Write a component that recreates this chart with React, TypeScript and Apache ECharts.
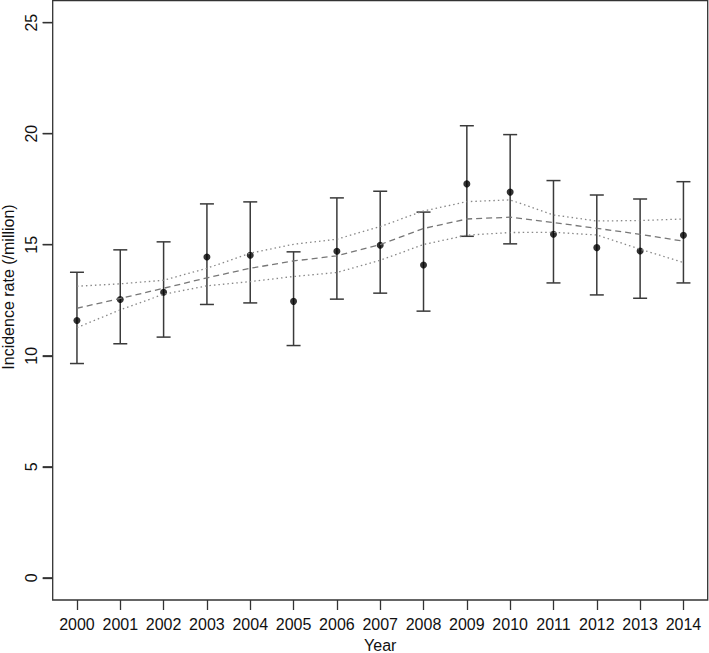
import React, { useEffect, useRef } from "react";
import * as echarts from "echarts";

const years = [2000, 2001, 2002, 2003, 2004, 2005, 2006, 2007, 2008, 2009, 2010, 2011, 2012, 2013, 2014];
const rate = [11.59, 12.53, 12.86, 14.45, 14.53, 12.45, 14.71, 14.98, 14.09, 17.74, 17.37, 15.47, 14.87, 14.72, 15.43];
const rateUpper = [13.76, 14.77, 15.13, 16.84, 16.93, 14.68, 17.11, 17.41, 16.47, 20.36, 19.96, 17.89, 17.24, 17.06, 17.84];
const rateLower = [9.65, 10.54, 10.84, 12.31, 12.38, 10.46, 12.55, 12.82, 12.01, 15.38, 15.04, 13.28, 12.74, 12.59, 13.28];
const fit = [12.14, 12.58, 13.04, 13.51, 13.94, 14.27, 14.5, 15.01, 15.73, 16.16, 16.24, 16.0, 15.74, 15.47, 15.16];
const fitUpper = [13.13, 13.24, 13.4, 13.94, 14.62, 15.02, 15.25, 15.82, 16.52, 16.94, 17.02, 16.34, 16.07, 16.09, 16.16];
const fitLower = [11.27, 12.07, 12.77, 13.15, 13.34, 13.57, 13.75, 14.3, 15.01, 15.43, 15.55, 15.56, 15.44, 14.8, 14.2];
const yTicks = [0, 5, 10, 15, 20, 25];
const yTitle = "Incidence rate (/million)";
const xTitle = "Year";

const X_MIN = 1999.44;
const X_MAX = 2014.56;
const FONT = "'Liberation Sans', Arial, Helvetica, sans-serif";

export default function App() {
  const ref = useRef<HTMLDivElement>(null);
  useEffect(() => {
    if (!ref.current) return;
    const chart = echarts.init(ref.current, null, { renderer: "svg" });
    const errData = years.map((y, i) => [y, rateLower[i], rateUpper[i]]);
    chart.setOption({
      animation: false,
      backgroundColor: "#fff",
      grid: {
        left: 52.7,
        right: 1.3,
        top: 0.5,
        bottom: 53,
        show: true,
        containLabel: false,
        outerBoundsMode: "none",
        borderColor: "#333",
        borderWidth: 1.3,
        backgroundColor: "transparent",
      },
      graphic: [
        {
          type: "text",
          x: 8,
          y: 287,
          rotation: Math.PI / 2,
          style: {
            text: yTitle,
            fill: "#111",
            font: `16px ${FONT}`,
            align: "center",
            verticalAlign: "middle",
          },
        },
      ],
      xAxis: {
        type: "value",
        min: X_MIN,
        max: X_MAX,
        splitLine: { show: false },
        axisLine: { show: false, onZero: false },
        axisTick: { show: true, length: 10, customValues: years, lineStyle: { color: "#333", width: 1.3 } },
        axisLabel: {
          customValues: years,
          formatter: (v: number) => String(v),
          color: "#111",
          fontFamily: FONT,
          fontSize: 16,
          margin: 16,
        },
        name: xTitle,
        nameLocation: "middle",
        nameGap: 37,
        nameTextStyle: { color: "#111", fontFamily: FONT, fontSize: 16 },
      },
      yAxis: {
        type: "value",
        min: -1,
        max: 26,
        splitLine: { show: false },
        axisLine: { show: false, onZero: false },
        axisTick: { show: true, length: 10, customValues: yTicks, lineStyle: { color: "#333", width: 1.3 } },
        axisLabel: {
          customValues: yTicks,
          rotate: 90,
          color: "#111",
          fontFamily: FONT,
          fontSize: 16,
          margin: 13,
        },
      },
      series: [
        {
          type: "custom",
          data: yTicks.map((v) => [X_MIN, v]),
          encode: { x: 0, y: 1 },
          clip: false,
          silent: true,
          renderItem: (params: any, api: any) => {
            const p = api.coord([api.value(0), api.value(1)]);
            return {
              type: "line",
              shape: { x1: p[0] - 10, y1: p[1], x2: p[0], y2: p[1] },
              style: { stroke: "#333", lineWidth: 1.3 },
            };
          },
        },
        {
          type: "line",
          data: years.map((y, i) => [y, fitUpper[i]]),
          showSymbol: false,
          symbol: "none",
          lineStyle: { color: "#888", width: 1.3, type: [1.5, 3] },
          silent: true,
        },
        {
          type: "line",
          data: years.map((y, i) => [y, fitLower[i]]),
          showSymbol: false,
          symbol: "none",
          lineStyle: { color: "#888", width: 1.3, type: [1.5, 3] },
          silent: true,
        },
        {
          type: "line",
          data: years.map((y, i) => [y, fit[i]]),
          showSymbol: false,
          symbol: "none",
          lineStyle: { color: "#777", width: 1.3, type: [6, 4] },
          silent: true,
        },
        {
          type: "custom",
          data: errData,
          encode: { x: 0, y: [1, 2] },
          renderItem: (params: any, api: any) => {
            const x = api.value(0);
            const lo = api.coord([x, api.value(1)]);
            const hi = api.coord([x, api.value(2)]);
            const hw = 7;
            const style = { stroke: "#3a3a3a", lineWidth: 1.5 };
            return {
              type: "group",
              children: [
                { type: "line", shape: { x1: lo[0], y1: lo[1], x2: hi[0], y2: hi[1] }, style },
                { type: "line", shape: { x1: hi[0] - hw, y1: hi[1], x2: hi[0] + hw, y2: hi[1] }, style },
                { type: "line", shape: { x1: lo[0] - hw, y1: lo[1], x2: lo[0] + hw, y2: lo[1] }, style },
              ],
            };
          },
          silent: true,
        },
        {
          type: "scatter",
          data: years.map((y, i) => [y, rate[i]]),
          symbol: "circle",
          symbolSize: 7,
          itemStyle: { color: "#000" },
          silent: true,
        },
      ],
    });
    return () => chart.dispose();
  }, []);
  return <div ref={ref} style={{ width: 709, height: 653, position: "absolute", left: 0, top: 0 }} />;
}
